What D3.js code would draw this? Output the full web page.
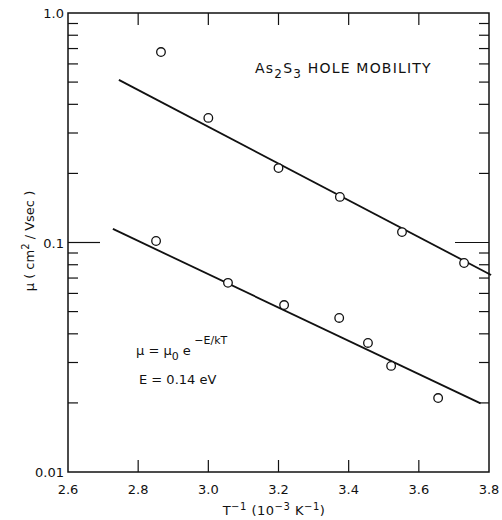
<!DOCTYPE html>
<html>
<head>
<meta charset="utf-8">
<script src="https://cdn.jsdelivr.net/npm/d3@7"></script>
<style>
  body { margin: 0; background: #fff; }
  text { font-family: "DejaVu Sans", "Liberation Sans", sans-serif; fill: #111; }
</style>
</head>
<body>
<div class="plot"></div>
<script>
// upper series (circles)
const upperX = [2.865, 3.0, 3.2, 3.375, 3.552, 3.729];
const upperY = [0.676, 0.349, 0.211, 0.158, 0.111, 0.0814];
// lower series (circles)
const lowerX = [2.851, 3.056, 3.216, 3.373, 3.455, 3.521, 3.655];
const lowerY = [0.1015, 0.0667, 0.0534, 0.0469, 0.0365, 0.029, 0.021];
// fitted lines, end points
const upperFitX = [2.745, 3.806];
const upperFitY = [0.511, 0.0722];
const lowerFitX = [2.728, 3.776];
const lowerFitY = [0.1146, 0.0199];
const xTicks = [2.6, 2.8, 3.0, 3.2, 3.4, 3.6, 3.8];
const yMajor = [0.01, 0.1, 1.0];
const yLabels = ["0.01", "0.1", "1.0"];

const width = 502, height = 520;
const mLeft = 68, mRight = 489, mTop = 13, mBottom = 472;

const x = d3.scaleLinear().domain([2.6, 3.8]).range([mLeft, mRight]);
const y = d3.scaleLog().domain([0.01, 1]).range([mBottom, mTop]);

const svg = d3.select('.plot').append('svg')
    .attr('width', width)
    .attr('height', height);

// frame
svg.append('rect')
    .attr('x', mLeft).attr('y', mTop)
    .attr('width', mRight - mLeft).attr('height', mBottom - mTop)
    .attr('fill', 'none').attr('stroke', '#111').attr('stroke-width', 1.5);

// minor ticks on y (both sides, inside)
let minors = [];
[0.01, 0.1].forEach(d => { for (let k = 2; k <= 9; k++) minors.push(d * k); });
svg.selectAll('line.yminl').data(minors).enter().append('line')
    .attr('x1', mLeft).attr('x2', mLeft + 10)
    .attr('y1', d => y(d)).attr('y2', d => y(d))
    .attr('stroke', '#111').attr('stroke-width', 1.2);
svg.selectAll('line.yminr').data(minors).enter().append('line')
    .attr('x1', mRight).attr('x2', mRight - 10)
    .attr('y1', d => y(d)).attr('y2', d => y(d))
    .attr('stroke', '#111').attr('stroke-width', 1.2);

// major tick at 0.1
svg.append('line').attr('x1', mLeft).attr('x2', mLeft + 32)
    .attr('y1', y(0.1)).attr('y2', y(0.1)).attr('stroke', '#111').attr('stroke-width', 1.2);
svg.append('line').attr('x1', mRight).attr('x2', mRight - 34)
    .attr('y1', y(0.1)).attr('y2', y(0.1)).attr('stroke', '#111').attr('stroke-width', 1.2);

// x ticks top and bottom
const inner = xTicks.slice(1, -1);
svg.selectAll('line.xb').data(inner).enter().append('line')
    .attr('x1', d => x(d)).attr('x2', d => x(d))
    .attr('y1', mBottom).attr('y2', mBottom - 12)
    .attr('stroke', '#111').attr('stroke-width', 1.2);
svg.selectAll('line.xt').data(inner).enter().append('line')
    .attr('x1', d => x(d)).attr('x2', d => x(d))
    .attr('y1', mTop).attr('y2', mTop + 12)
    .attr('stroke', '#111').attr('stroke-width', 1.2);

// tick labels
svg.selectAll('text.xl').data(xTicks).enter().append('text')
    .attr('x', d => x(d)).attr('y', 494)
    .attr('text-anchor', 'middle').attr('font-size', 13)
    .text(d => d.toFixed(1));
svg.selectAll('text.yl').data(yMajor).enter().append('text')
    .attr('x', mLeft - 4).attr('y', d => y(d) + 5)
    .attr('text-anchor', 'end').attr('font-size', 13)
    .text((d, i) => yLabels[i]);

// axis titles
const xt = svg.append('text').attr('x', 274).attr('y', 515)
    .attr('text-anchor', 'middle').attr('font-size', 13)
    .attr('letter-spacing', 0.5);
xt.append('tspan').text('T');
xt.append('tspan').attr('dy', -5).attr('font-size', 10).text('−1');
xt.append('tspan').attr('dy', 5).text(' (10');
xt.append('tspan').attr('dy', -5).attr('font-size', 10).text('−3');
xt.append('tspan').attr('dy', 5).text(' K');
xt.append('tspan').attr('dy', -5).attr('font-size', 10).text('−1');
xt.append('tspan').attr('dy', 5).text(')');

const yt = svg.append('text')
    .attr('transform', 'translate(34,241) rotate(-90)')
    .attr('text-anchor', 'middle').attr('font-size', 13);
yt.append('tspan').text('μ ( cm');
yt.append('tspan').attr('dy', -5).attr('font-size', 10).text('2');
yt.append('tspan').attr('dy', 5).text(' / Vsec )');

// fitted lines
const line = d3.line().x(d => x(d[0])).y(d => y(d[1]));
[[upperFitX, upperFitY], [lowerFitX, lowerFitY]].forEach(s => {
    svg.append('path')
        .attr('d', line(s[0].map((v, i) => [v, s[1][i]])))
        .attr('fill', 'none').attr('stroke', '#111').attr('stroke-width', 1.8);
});

// points
const pts = upperX.map((v, i) => [v, upperY[i]])
    .concat(lowerX.map((v, i) => [v, lowerY[i]]));
svg.selectAll('circle').data(pts).enter().append('circle')
    .attr('cx', d => x(d[0])).attr('cy', d => y(d[1]))
    .attr('r', 4.3)
    .attr('fill', '#fff').attr('stroke', '#111').attr('stroke-width', 1.3);

// annotations
const t1 = svg.append('text').attr('x', 255).attr('y', 73).attr('font-size', 14)
    .attr('letter-spacing', 1.2);
t1.append('tspan').text('As');
t1.append('tspan').attr('dy', 5).attr('font-size', 12).text('2');
t1.append('tspan').attr('dy', -5).text('S');
t1.append('tspan').attr('dy', 5).attr('font-size', 12).text('3');
t1.append('tspan').attr('dy', -5).text(' HOLE MOBILITY');

const t2 = svg.append('text').attr('x', 136).attr('y', 355).attr('font-size', 13);
t2.append('tspan').text('μ = μ');
t2.append('tspan').attr('dy', 5).attr('font-size', 11).text('0');
t2.append('tspan').attr('dy', -5).text(' e');
t2.append('tspan').attr('dy', -11).attr('font-size', 11).text(' −E/kT');

svg.append('text').attr('x', 139).attr('y', 384).attr('font-size', 13)
    .text('E = 0.14 eV');
</script>
</body>
</html>
